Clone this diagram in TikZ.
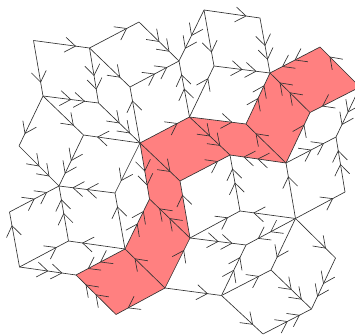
\documentclass[tikz,border=0pt]{standalone}
\usepackage{tikz}
\usetikzlibrary{decorations.markings}
\definecolor{wormRed}{RGB}{255, 128, 128}
\definecolor{edgeGray}{RGB}{50, 50, 50}
\tikzset{
  tile/.style={edgeGray, line width=0.65pt},
  onearrow/.style={tile, postaction={decorate, decoration={markings,
    mark=at position 0.75 with {\draw[tile] (-10.6pt,7.5pt) -- (0pt,0pt) -- (-10.6pt,-7.5pt);}}}},
  twoarrow/.style={tile, postaction={decorate, decoration={markings,
    mark=at position 0.5 with {\draw[tile] (-10.6pt,7.5pt) -- (0pt,0pt) -- (-10.6pt,-7.5pt);},
    mark=at position 0.75 with {\draw[tile] (-10.6pt,7.5pt) -- (0pt,0pt) -- (-10.6pt,-7.5pt);}}}}
}
\begin{document}
\begin{tikzpicture}[x=1pt, y=-1pt]
  \useasboundingbox (0,0) rectangle (355,334);
  % vertices
  \foreach \name/\px/\py in {A/33.5/40.5, B/89.5/48, C/139/22, D/179/61, E/130/87, F/98.5/103,
      G/43/96, H/83.5/135, I/140/143, J/19/146, K/204/10, L/260/18, M/270/73, N/214/66,
      O/189.5/117, P/246/124, Q/230/155, R/286/163, S/310/112.5, T/320/47, U/360/87, V/336/137,
      X/180/181, Y/190/238, Z/149.5/199, Aa/125/249, Bb/165/288, Cc/116/314.5, Dd/76/275,
      Ab/59/186, Ac/115/193, Ad/68.5/241, Ae/9.5/212, Af/19.5/267,
      a/240/211, b/295.5/218.5, c/246/245, d/221.5/295.5, e/271/270, f/335.5/258,
      g/311.5/309, h/263/334, i/345/192}
    \coordinate (\name) at (\px,\py);
  % red strip
  \fill[wormRed] (I) -- (O) -- (P) -- (M) -- (T) -- (U) -- (S) -- (R) -- (Q) -- (X) -- (Y)
    -- (Bb) -- (Cc) -- (Dd) -- (Aa) -- (Z) -- cycle;
  % single edges
  \foreach \from/\to in {A/B, A/G, B/C, B/E, I/E, G/H, I/H, G/J, Af/Ae, Af/Ad, Aa/Ad, Aa/Ac,
      I/Ac, I/O, I/X, X/Q, Y/X, Bb/Aa, Bb/Cc, Bb/Y, Bb/d, K/L, K/N, O/N, O/P, R/P, R/S,
      U/T, U/S, b/R, b/i, b/f, b/a, Y/a, b/e, d/e, d/h}
    \draw[onearrow] (\from) -- (\to);
  % double edges
  \foreach \from/\to in {C/D, E/D, B/F, G/F, F/I, H/Ab, J/Ab, Ae/Ab, Ac/Ab, Ad/Ab, Af/Dd,
      Aa/Dd, Cc/Dd, Aa/Z, Y/Z, I/Z, O/Q, L/M, N/M, T/M, S/M, P/M, R/Q, R/V, U/V, i/V,
      K/D, O/D, a/Q, Y/c, b/c, d/c, e/g, f/g, h/g}
    \draw[twoarrow] (\from) -- (\to);
\end{tikzpicture}
\end{document}
